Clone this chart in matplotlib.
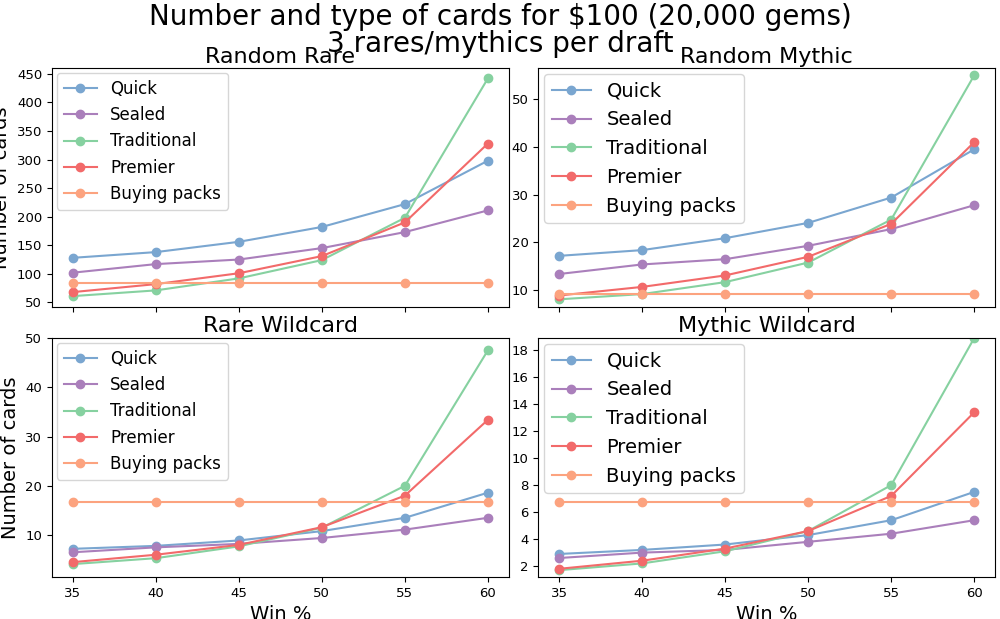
import matplotlib
matplotlib.use("Agg")
import matplotlib.pyplot as plt
import numpy as np

win = [35, 40, 45, 50, 55, 60]
series_names = ["Quick", "Sealed", "Traditional", "Premier", "Buying packs"]
colors = ["#7aa6d0", "#aa7fbb", "#86d1a0", "#f26a6a", "#fca37f"]

rare = [
    [128, 138, 156, 182, 222, 298],
    [102, 117, 125, 145, 173, 211],
    [61, 71, 92, 124, 198, 442],
    [68, 82, 101, 131, 190, 328],
    [84, 84, 84, 84, 84, 84],
]
mythic = [
    [17.2, 18.4, 20.9, 24.1, 29.4, 39.5],
    [13.4, 15.4, 16.5, 19.3, 22.8, 27.8],
    [8.1, 9.2, 11.7, 15.8, 24.8, 55.0],
    [8.9, 10.7, 13.1, 17.0, 23.9, 41.0],
    [9.3, 9.3, 9.3, 9.3, 9.3, 9.3],
]
rare_wc = [
    [7.2, 7.8, 8.9, 10.8, 13.5, 18.6],
    [6.5, 7.5, 8.2, 9.4, 11.1, 13.5],
    [4.1, 5.3, 7.7, 11.5, 20.0, 47.5],
    [4.5, 6.0, 8.0, 11.6, 18.0, 33.4],
    [16.8, 16.8, 16.8, 16.8, 16.8, 16.8],
]
mythic_wc = [
    [2.9, 3.2, 3.6, 4.3, 5.4, 7.5],
    [2.6, 3.0, 3.2, 3.8, 4.4, 5.4],
    [1.7, 2.2, 3.1, 4.6, 8.0, 18.9],
    [1.8, 2.4, 3.3, 4.6, 7.2, 13.4],
    [6.75, 6.75, 6.75, 6.75, 6.75, 6.75],
]

panels = [("Random Rare", rare, 12), ("Random Mythic", mythic, 14),
          ("Rare Wildcard", rare_wc, 12), ("Mythic Wildcard", mythic_wc, 14)]

fig, axes = plt.subplots(2, 2, figsize=(10, 6.19), dpi=100, sharex=True)
fig.subplots_adjust(left=0.052, right=0.995, top=0.89, bottom=0.068,
                    wspace=0.065, hspace=0.13)
for ax, (title, data, lfs) in zip(axes.flat, panels):
    for name, vals, c in zip(series_names, data, colors):
        ax.plot(win, vals, marker="o", color=c, label=name)
    ax.set_title(title, fontsize=16, pad=4)
    ax.legend(fontsize=lfs, loc="upper left", borderaxespad=0.3)
    ax.tick_params(labelsize=9.5)

axes[0, 0].set_ylim(42, 460)
axes[0, 0].set_yticks(np.arange(50, 451, 50))
axes[0, 1].set_ylim(6.5, 56.5)
axes[1, 0].set_ylim(1.5, 50)
axes[1, 1].set_ylim(1.2, 18.9)
axes[1, 1].set_yticks(np.arange(2, 19, 2))
for ax in axes[:, 0]:
    ax.set_ylabel("Number of cards", fontsize=14)
for ax in axes[1, :]:
    ax.set_xlabel("Win %", fontsize=14)
    ax.set_xticks(win)

fig.suptitle("Number and type of cards for $100 (20,000 gems)\n3 rares/mythics per draft",
             fontsize=20, y=0.995, linespacing=0.95)
fig.savefig("out.png")
